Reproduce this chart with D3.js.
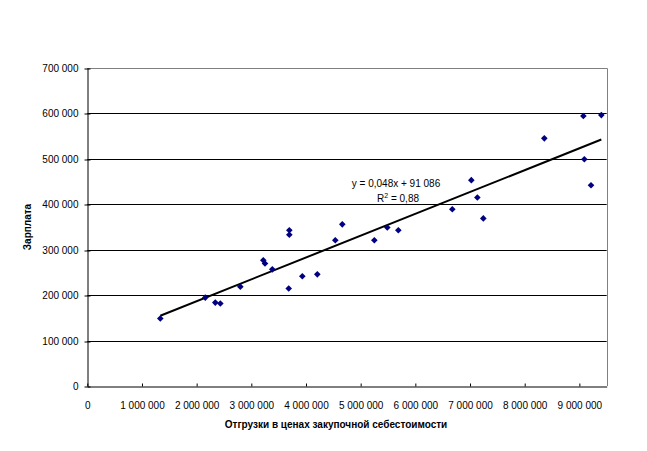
<!DOCTYPE html>
<html><head><meta charset="utf-8">
<script src="https://cdn.jsdelivr.net/npm/d3@7"></script>
<style>body{margin:0;background:#fff}svg{display:block}text{font-family:Arial,"Liberation Sans",sans-serif}</style>
</head><body>
<script>
const shipments = [1335000,2158000,2341000,2433000,2799000,3219000,3250000,3384000,3695000,3695000,3684000,3933000,4207000,4536000,4664000,5250000,5487000,5689000,6676000,7024000,7134000,7243000,8359000,9073000,9402000,9091000,9213000];
const salaries  = [149000,195000,184000,182000,219000,277000,270000,257000,343000,333000,215000,242000,246000,321000,356000,321000,349000,343000,389000,453000,415000,369000,545000,594000,596000,499000,442000];
const xTicks = [0,1000000,2000000,3000000,4000000,5000000,6000000,7000000,8000000,9000000];
const yTicks = [0,100000,200000,300000,400000,500000,600000,700000];
const trendSlope = 0.048, trendIntercept = 91086;
const eqLabel = "y = 0,048x + 91 086";
const r2Label = "0,88";
const xTitle = "Отгрузки в ценах закупочной себестоимости";
const yTitle = "Зарплата";

const W=647,H=451;
const svg=d3.select("body").append("svg").attr("width",W).attr("height",H);
const L=87.3,R=606.7,T=67.8,B=386.3;
const x=d3.scaleLinear().domain([0,9500000]).range([L,R]);
const y=d3.scaleLinear().domain([0,700000]).range([B,T]);
const fmt=v=>d3.format(",")(v).replace(/,/g," ");

// gridlines
svg.append("g").selectAll("line").data(yTicks.filter(d=>d>0 && d<700000)).join("line")
 .attr("x1",L).attr("x2",R).attr("y1",d=>Math.round(y(d))+0.5).attr("y2",d=>Math.round(y(d))+0.5)
 .attr("stroke","#000").attr("stroke-width",1);
// top/right border grey
svg.append("path").attr("d",`M${L},${Math.round(T)+0.5}H${Math.round(R)+0.5}V${Math.round(B)}`)
 .attr("fill","none").attr("stroke","#808080").attr("stroke-width",1);

// axes
const xa=svg.append("g").attr("transform",`translate(0,${Math.round(B)+0.5})`)
 .call(d3.axisBottom(x).tickValues(xTicks).tickFormat(fmt).tickSize(4).tickSizeOuter(0));
const ya=svg.append("g").attr("transform",`translate(${Math.round(L)+0.5},0)`)
 .call(d3.axisLeft(y).tickValues(yTicks).tickFormat(fmt).tickSize(4).tickSizeOuter(0));
[xa,ya].forEach(a=>{a.select(".domain").attr("stroke","#000");a.selectAll(".tick line").attr("stroke","#000");
 a.selectAll("text").attr("font-size",10).attr("fill","#000").style("font-family","Arial, 'Liberation Sans', sans-serif");});
xa.selectAll(".tick line").attr("y1",-3).attr("y2",0);
xa.selectAll("text").attr("dy",0).attr("y",22);
ya.selectAll(".tick line").attr("x1",-3).attr("x2",3);
ya.selectAll("text").attr("x",-9).attr("dy","0.35em");
ya.selectAll(".tick line").attr("transform",d=>"translate(0,"+(Math.round(y(d))+0.5-y(d))+")");

// trendline
const xmin=d3.min(shipments),xmax=d3.max(shipments);
svg.append("line").attr("x1",x(xmin)).attr("y1",y(trendSlope*xmin+trendIntercept))
 .attr("x2",x(xmax)).attr("y2",y(trendSlope*xmax+trendIntercept))
 .attr("stroke","#000").attr("stroke-width",2);

// points
svg.append("g").selectAll("path").data(shipments.map((v,i)=>[v,salaries[i]])).join("path")
 .attr("d",d3.symbol(d3.symbolDiamond2,28)())
 .attr("transform",d=>`translate(${x(d[0])},${y(d[1])})`).attr("fill","#000080");

// equation
svg.append("text").attr("x",396).attr("y",187).attr("text-anchor","middle").attr("font-size",10).text(eqLabel);
const r2=svg.append("text").attr("x",398).attr("y",202).attr("text-anchor","middle").attr("font-size",10);
r2.append("tspan").text("R");
r2.append("tspan").attr("font-size",7).attr("dy",-4).text("2");
r2.append("tspan").attr("dy",4).text(" = "+r2Label);

// titles
svg.append("text").attr("x",336).attr("y",428).attr("text-anchor","middle").attr("font-size",10).attr("font-weight","bold").text(xTitle);
svg.append("text").attr("transform",`translate(31,227) rotate(-90)`).attr("text-anchor","middle").attr("font-size",10).attr("font-weight","bold").text(yTitle);
</script>
</body></html>
